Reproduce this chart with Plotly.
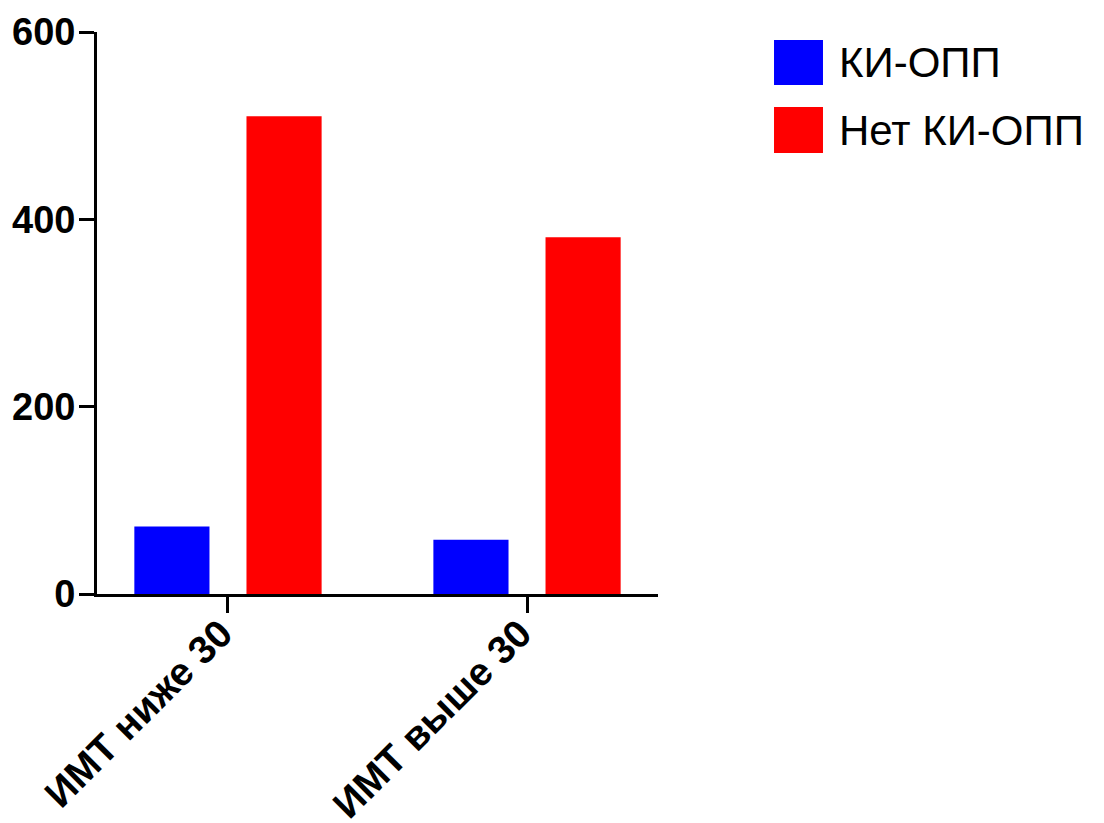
import plotly.graph_objects as go

categories = ["ИМТ ниже 30", "ИМТ выше 30"]
series_names = ["КИ-ОПП", "Нет КИ-ОПП"]
ki_opp = [72, 58]
net_ki_opp = [510, 381]
series_values = [ki_opp, net_ki_opp]
series_colors = ["#0000FF", "#FF0000"]
y_ticks = [0, 200, 400, 600]

FONT = "Liberation Sans, Arial, sans-serif"

fig = go.Figure()
for name, vals, col in zip(series_names, series_values, series_colors):
    fig.add_trace(go.Bar(x=categories, y=vals, name=name, marker_color=col,
                         marker_line_width=0, showlegend=False))

# Legend drawn as large squares + text (to match the big legend symbols)
leg_x0, leg_x1 = 1.2068, 1.2941
leg_rows = [(0.9057, 0.9858), (0.7847, 0.8665)]
for (y0, y1), name, col in zip(leg_rows, series_names, series_colors):
    fig.add_shape(type="rect", xref="paper", yref="paper",
                  x0=leg_x0, x1=leg_x1, y0=y0, y1=y1,
                  fillcolor=col, line_width=0)
    fig.add_annotation(xref="paper", yref="paper", x=1.319, y=(y0 + y1) / 2,
                       text=name, showarrow=False, xanchor="left", yanchor="middle",
                       font=dict(family=FONT, size=42, color="black"))

# page body adds an 8px offset, so the figure is 8px smaller and margins compensate
fig.update_layout(
    width=1096, height=815,
    margin=dict(l=89, r=446, t=24, b=229),
    plot_bgcolor="white", paper_bgcolor="white",
    barmode="group", bargap=0.25, bargroupgap=0.33,
    font=dict(family=FONT, color="black"),
)
fig.update_xaxes(type="category", range=[-0.438, 1.438], automargin=False,
                 showline=True, linecolor="black", linewidth=3,
                 ticks="outside", ticklen=16, tickwidth=3, tickcolor="black",
                 tickangle=-45, showgrid=False, zeroline=False,
                 ticklabelstandoff=-18, ticklabelshift=-7,
                 tickfont=dict(family=FONT, size=39, weight="bold", color="black"))
fig.update_yaxes(range=[0, 600], tickvals=y_ticks, automargin=False,
                 showline=True, linecolor="black", linewidth=3,
                 ticks="outside", ticklen=15, tickwidth=3, tickcolor="black",
                 showgrid=False, zeroline=False, ticklabelstandoff=-4,
                 tickfont=dict(family=FONT, size=38, weight="bold", color="black"))

fig.write_html("out.html")
